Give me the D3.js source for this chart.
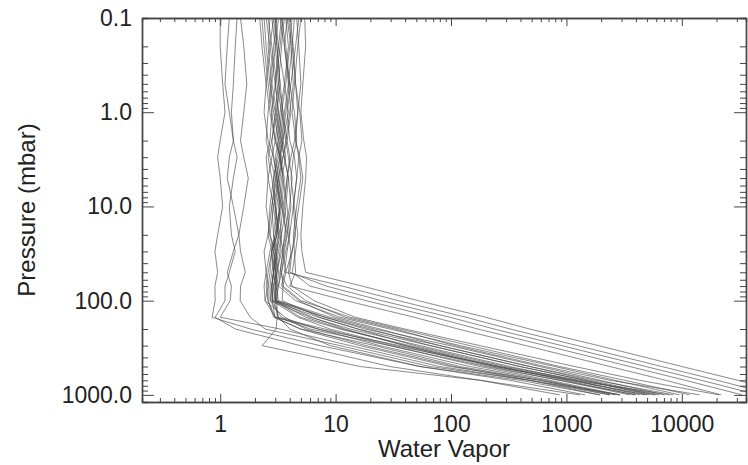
<!DOCTYPE html>
<html>
<head>
<meta charset="utf-8">
<script src="https://cdn.jsdelivr.net/npm/d3@7/dist/d3.min.js"></script>
<style>
body { margin: 0; background: #fff; }
text { font-family: "Liberation Sans", Arial, sans-serif; fill: #222; }
</style>
</head>
<body>
<script>
// pressure levels (mbar) shared by every profile
var levels = [0.1, 0.2, 0.5, 1, 2, 3, 5, 10, 20, 30, 50, 70, 100, 150, 200, 300, 500, 700, 1000];

// water vapor profiles, one value per level
var fanProfiles = [
	[5.4, 5.5, 5.2, 5.0, 5.3, 5.6, 5.5, 5.2, 5.0, 5.1, 5.5, 17, 52, 200, 480, 1900, 10000, 30600, 92000],
	[4.6, 4.8, 5.0, 4.7, 4.5, 4.9, 5.2, 4.8, 4.4, 4.2, 3.7, 11.4, 35, 135, 325, 1250, 6700, 20300, 62000],
	[4.0, 4.3, 4.5, 4.9, 5.1, 4.8, 4.6, 4.3, 4.5, 4.2, 4.0, 8.3, 25, 98, 236, 912, 4870, 14800, 46000],
	[3.8, 3.6, 4.0, 4.4, 4.6, 4.3, 4.1, 4.4, 4.7, 4.5, 4.2, 6.0, 18.4, 71, 171, 663, 3540, 10700, 33300],
	[5.0, 4.7, 4.4, 4.2, 4.5, 4.8, 5.0, 4.6, 4.3, 4.4, 4.5, 4.0, 12.3, 48, 115, 446, 2380, 7230, 22000]
];

var mainProfiles = [
	[3.0, 3.2, 3.6, 3.9, 3.5, 3.3, 3.1, 3.4, 3.8, 3.6, 3.4, 3.5, 5.0, 13.4, 36, 146, 876, 3210, 11700],
	[2.6, 2.8, 3.1, 3.4, 3.7, 3.5, 3.2, 3.0, 3.3, 3.5, 3.3, 3.2, 4.5, 10.9, 29.6, 120, 794, 2630, 9560],
	[3.5, 3.3, 3.0, 2.8, 3.0, 3.3, 3.6, 3.4, 3.1, 2.9, 3.0, 3.1, 3.18, 8.96, 21.9, 98, 590, 1950, 7090],
	[2.4, 2.5, 2.7, 3.0, 3.3, 3.6, 3.9, 3.7, 3.4, 3.2, 3.0, 2.9, 2.99, 8.1, 18.0, 80, 482, 1600, 6420],
	[4.2, 4.0, 3.7, 3.4, 3.2, 3.0, 3.2, 3.5, 3.7, 3.4, 3.1, 2.9, 2.82, 7.06, 15.6, 66, 396, 1450, 5270],
	[2.9, 3.1, 3.3, 3.1, 2.8, 2.6, 2.8, 3.0, 3.2, 3.0, 2.8, 2.7, 2.71, 6.0, 13.4, 54, 324, 1180, 4320],
	[3.3, 3.6, 3.9, 4.1, 3.8, 3.5, 3.3, 3.1, 2.9, 3.0, 3.2, 3.1, 2.99, 4.93, 10.9, 44, 265, 969, 3910],
	[2.3, 2.4, 2.6, 2.8, 2.7, 2.5, 2.6, 2.9, 3.1, 2.8, 2.6, 2.5, 2.6, 3.0, 7.0, 36, 218, 876, 3540],
	[3.8, 4.1, 4.3, 4.0, 3.7, 3.9, 4.2, 4.0, 3.6, 3.5, 3.7, 3.5, 3.44, 7.33, 15.6, 48.7, 295, 1310, 5810],
	[3.1, 2.9, 2.7, 2.9, 3.2, 3.4, 3.2, 2.9, 2.7, 2.9, 3.1, 3.0, 3.05, 6.26, 12.1, 40, 241, 1070, 4770],
	[2.5, 2.7, 3.0, 3.2, 3.0, 2.8, 2.6, 2.5, 2.7, 3.0, 2.9, 2.8, 2.88, 3.2, 6.0, 29.6, 178, 718, 2900],
	[3.6, 3.4, 3.2, 3.5, 3.8, 4.0, 3.8, 3.5, 3.3, 3.1, 2.9, 2.8, 2.71, 3.4, 7.06, 24.2, 146, 650, 2630],
	[4.4, 4.2, 3.9, 3.6, 3.4, 3.6, 3.9, 4.1, 3.8, 3.5, 3.3, 3.8, 5.5, 12.1, 32.7, 108, 650, 2380, 14300],
	[3.9, 4.2, 4.5, 4.7, 4.4, 4.1, 3.8, 3.6, 3.9, 4.1, 3.9, 4.2, 6.5, 14.8, 39.9, 178, 1180, 4320, 21100],
	[2.7, 2.6, 2.8, 3.1, 3.4, 3.2, 2.9, 2.7, 2.6, 2.8, 2.9, 2.8, 2.82, 4.73, 8.96, 32.7, 265, 1180, 7830],
	[3.2, 3.0, 2.8, 2.6, 2.5, 2.7, 3.0, 3.3, 3.1, 2.8, 2.7, 2.6, 2.6, 2.9, 5.0, 21.9, 120, 590, 2380],
	[2.2, 2.3, 2.5, 2.4, 2.6, 2.9, 3.1, 2.8, 2.6, 2.4, 2.5, 2.6, 2.45, 3.65, 5.5, 18.4, 108, 480, 1950],
	[4.8, 4.5, 4.1, 3.8, 4.0, 4.4, 4.6, 4.3, 4.0, 3.8, 3.6, 3.4, 4.8, 9.9, 24.2, 80, 482, 1800, 8500],
	[3.7, 3.9, 3.6, 3.3, 3.1, 3.3, 3.5, 3.8, 4.0, 3.7, 3.4, 3.2, 3.05, 8.1, 19.9, 65.8, 396, 1450, 6000],
	[2.9, 2.7, 2.5, 2.7, 3.0, 3.3, 3.5, 3.3, 3.0, 2.7, 2.5, 2.4, 2.45, 3.0, 8.1, 29.6, 200, 876, 4000],
	[3.4, 3.7, 4.0, 3.7, 3.5, 3.7, 3.4, 3.2, 3.4, 3.3, 3.1, 3.0, 2.99, 5.5, 11.4, 40, 240, 1100, 5000]
];

var lowerProfiles = [
	[3.0, 3.1, 3.3, 3.5, 3.3, 3.1, 2.9, 3.0, 3.2, 3.1, 3.0, 3.1, 3.11, 3.11, 3.05, 2.31, 16.3, 178, 1310],
	[2.8, 3.0, 3.2, 3.0, 2.8, 2.9, 3.1, 3.3, 3.0, 2.8, 2.9, 3.0, 2.99, 3.18, 4.03, 8.96, 53.9, 396, 1950],
	[3.4, 3.2, 3.0, 3.2, 3.5, 3.3, 3.0, 2.8, 2.9, 3.1, 2.9, 2.8, 2.82, 2.99, 4.93, 16.3, 98, 590, 2900]
];

var dryProfiles = [
	[1.0, 1.0, 1.05, 1.1, 1.0, 0.95, 1.0, 1.05, 0.95, 0.9, 0.95, 0.9, 0.905, 0.85, 1.82, 7.33, 53.9, 324, 1450],
	[1.4, 1.35, 1.3, 1.25, 1.3, 1.4, 1.3, 1.2, 1.25, 1.35, 1.2, 1.1, 1.1, 0.905, 1.35, 4.93, 29.6, 178, 876],
	[1.2, 1.15, 1.1, 1.2, 1.3, 1.2, 1.15, 1.3, 1.45, 1.3, 1.15, 1.25, 1.22, 1.0, 3.31, 13.4, 80, 482, 2380],
	[1.5, 1.6, 1.7, 1.6, 1.5, 1.6, 1.75, 1.6, 1.45, 1.5, 1.65, 1.5, 1.49, 1.82, 2.45, 10.9, 66, 482, 2900]
];

var xTicks = [1, 10, 100, 1000, 10000];
var yTicks = [0.1, 1, 10, 100, 1000];
var xTitle = "Water Vapor";
var yTitle = "Pressure (mbar)";

var WIDTH = 748;
var HEIGHT = 465;
var plotLeft = 142, plotRight = 746, plotTop = 18, plotBottom = 402;

var svg = d3.select("body")
	.append("svg")
	.attr("width", WIDTH)
	.attr("height", HEIGHT);

var x = d3.scaleLog().domain([0.21, 36000]).range([plotLeft, plotRight]);
var y = d3.scaleLog().domain([0.1, 1190]).range([plotTop, plotBottom]);

svg.append("clipPath").attr("id", "box")
	.append("rect")
	.attr("x", plotLeft).attr("y", plotTop)
	.attr("width", plotRight - plotLeft).attr("height", plotBottom - plotTop);

var profiles = fanProfiles.concat(mainProfiles, lowerProfiles, dryProfiles);

var line = d3.line()
	.x(function(d) { return x(d[0]); })
	.y(function(d) { return y(d[1]); });

svg.append("g")
	.attr("clip-path", "url(#box)")
	.selectAll("path")
	.data(profiles)
	.enter()
	.append("path")
	.attr("d", function(p) { return line(p.map(function(v, i) { return [v, levels[i]]; })); })
	.attr("fill", "none")
	.attr("stroke", "#444")
	.attr("stroke-opacity", 0.7)
	.attr("stroke-width", 0.9);

// minor ticks: everything the log scale gives that is not a decade
var xMinor = x.ticks().filter(function(t) { return xTicks.indexOf(t) < 0; });
var yMinor = y.ticks().filter(function(t) { return yTicks.indexOf(t) < 0; });

var styleAxis = function(g) {
	g.select(".domain").attr("stroke", "#444").attr("stroke-width", 1.4);
	g.selectAll(".tick line").attr("stroke", "#444");
	g.selectAll("text").attr("font-size", 23).attr("fill", "#222");
};

svg.append("g").attr("transform", "translate(0," + plotBottom + ")")
	.call(d3.axisBottom(x).tickValues(xTicks).tickSizeInner(-8).tickSizeOuter(0).tickPadding(14).tickFormat(d3.format("d")))
	.call(styleAxis);
svg.append("g").attr("transform", "translate(0," + plotBottom + ")")
	.call(d3.axisBottom(x).tickValues(xMinor).tickSize(-4).tickFormat(""))
	.call(styleAxis);
svg.append("g").attr("transform", "translate(0," + plotTop + ")")
	.call(d3.axisTop(x).tickValues(xTicks).tickSizeInner(-8).tickSizeOuter(0).tickFormat(""))
	.call(styleAxis);
svg.append("g").attr("transform", "translate(0," + plotTop + ")")
	.call(d3.axisTop(x).tickValues(xMinor).tickSize(-4).tickFormat(""))
	.call(styleAxis);

svg.append("g").attr("transform", "translate(" + plotLeft + ",0)")
	.call(d3.axisLeft(y).tickValues(yTicks).tickSizeInner(-12).tickSizeOuter(0).tickPadding(10).tickFormat(d3.format(".1f")))
	.call(styleAxis);
svg.append("g").attr("transform", "translate(" + plotLeft + ",0)")
	.call(d3.axisLeft(y).tickValues(yMinor).tickSize(-6).tickFormat(""))
	.call(styleAxis);
svg.append("g").attr("transform", "translate(" + plotRight + ",0)")
	.call(d3.axisRight(y).tickValues(yTicks).tickSizeInner(-12).tickSizeOuter(0).tickFormat(""))
	.call(styleAxis);
svg.append("g").attr("transform", "translate(" + plotRight + ",0)")
	.call(d3.axisRight(y).tickValues(yMinor).tickSize(-6).tickFormat(""))
	.call(styleAxis);

svg.append("text")
	.attr("x", (plotLeft + plotRight) / 2)
	.attr("y", 457)
	.attr("text-anchor", "middle")
	.attr("font-size", 24)
	.text(xTitle);

svg.append("text")
	.attr("transform", "translate(35," + (plotTop + plotBottom) / 2 + ") rotate(-90)")
	.attr("text-anchor", "middle")
	.attr("font-size", 24)
	.text(yTitle);
</script>
</body>
</html>
